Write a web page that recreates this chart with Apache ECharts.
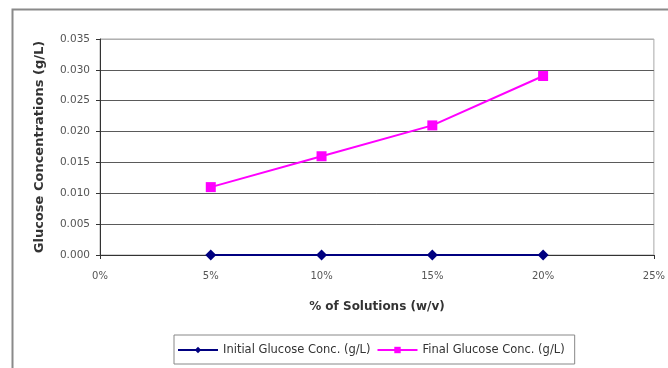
<!DOCTYPE html>
<html>
<head>
<meta charset="utf-8">
<script src="https://cdn.jsdelivr.net/npm/echarts@6/dist/echarts.min.js"></script>
<style>
  html, body { margin: 0; padding: 0; background: #fff; }
  #chart { width: 668px; height: 368px; }
</style>
</head>
<body>
<div id="chart"></div>
<script>
// Solution strength (w/v fraction) and glucose concentrations in g/L
const solutions = [0.05, 0.10, 0.15, 0.20];
const initialGlucose = [0.000, 0.000, 0.000, 0.000];
const finalGlucose = [0.011, 0.016, 0.021, 0.029];
const seriesNames = ['Initial Glucose Conc. (g/L)', 'Final Glucose Conc. (g/L)'];

const font = '"DejaVu Sans", Arial, sans-serif';
const chart = echarts.init(document.getElementById('chart'), null, { renderer: 'canvas' });

// gridlines: darker inside, the top one blends with the plot border
const gridColors = ['#5a5a5a', '#5a5a5a', '#5a5a5a', '#5a5a5a', '#5a5a5a', '#5a5a5a', '#5a5a5a', '#b0b0b0'];

chart.setOption({
  backgroundColor: '#fff',
  animation: false,
  graphic: [{
    type: 'rect',
    shape: { x: 12.5, y: 9.5, width: 700, height: 400 },
    style: { fill: 'none', stroke: '#8a8a8a', lineWidth: 2 },
    silent: true
  }],
  grid: { left: 100, right: 14, top: 39, bottom: 113, show: true, borderColor: '#a8a8a8', borderWidth: 1 },
  xAxis: {
    type: 'value', min: 0, max: 0.25, interval: 0.05,
    name: '% of Solutions (w/v)', nameLocation: 'middle', nameGap: 46,
    nameTextStyle: { fontFamily: font, fontSize: 12, fontWeight: 'bold', color: '#333' },
    axisLine: { show: true, onZero: false, lineStyle: { color: '#333', width: 1 } },
    axisTick: { show: true, length: 4, lineStyle: { color: '#333' } },
    axisLabel: { fontFamily: font, fontSize: 10, color: '#555', margin: 16,
      formatter: v => Math.round(v * 100) + '%' },
    splitLine: { show: false }
  },
  yAxis: {
    type: 'value', min: 0, max: 0.035, interval: 0.005,
    name: 'Glucose Concentrations (g/L)', nameLocation: 'middle', nameGap: 54,
    nameTextStyle: { fontFamily: font, fontSize: 13, fontWeight: 'bold', color: '#333' },
    axisLine: { show: true, lineStyle: { color: '#333', width: 1 } },
    axisTick: { show: true, length: 4, lineStyle: { color: '#333' } },
    axisLabel: { fontFamily: font, fontSize: 10.5, color: '#555', margin: 10,
      formatter: v => v.toFixed(3) },
    splitLine: { show: true, lineStyle: { color: gridColors, width: 1 } }
  },
  legend: {
    left: 174, top: 335, width: 410, height: 31,
    padding: [9, 10, 8, 3], itemGap: 6, itemWidth: 40, itemHeight: 8,
    borderColor: '#888', borderWidth: 1,
    textStyle: { fontFamily: font, fontSize: 11.5, color: '#333' },
    data: seriesNames
  },
  series: [
    {
      name: seriesNames[0], type: 'line',
      data: solutions.map((x, i) => [x, initialGlucose[i]]),
      symbol: 'diamond', symbolSize: 11,
      lineStyle: { color: '#000080', width: 2 },
      itemStyle: { color: '#000080' }
    },
    {
      name: seriesNames[1], type: 'line',
      data: solutions.map((x, i) => [x, finalGlucose[i]]),
      symbol: 'rect', symbolSize: 10,
      lineStyle: { color: '#ff00ff', width: 2 },
      itemStyle: { color: '#ff00ff' }
    }
  ]
});
</script>
</body>
</html>
